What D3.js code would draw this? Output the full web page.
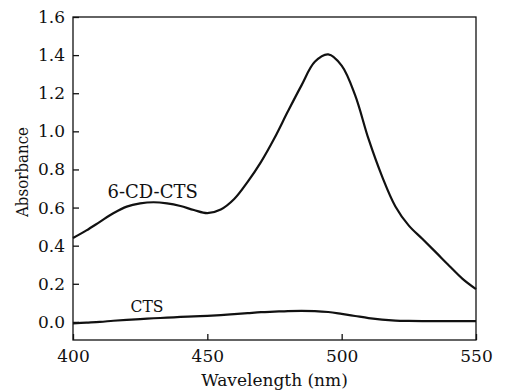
<!DOCTYPE html>
<html>
<head>
<meta charset="utf-8">
<script src="https://cdn.jsdelivr.net/npm/d3@7"></script>
<style>
html,body{margin:0;padding:0;background:#fff;}
svg{display:block;}
svg text{font-family:"DejaVu Serif","Liberation Serif",serif;fill:#111;}
</style>
</head>
<body>
<svg id="chart" width="506" height="392"></svg>
<script>
const wavelength = [400,405,410,415,420,425,430,435,440,445,450,455,460,465,470,475,480,485,490,495,500,505,510,515,520,525,530,535,540,545,550];
const cdcts = [0.44,0.48,0.525,0.57,0.605,0.622,0.628,0.622,0.608,0.587,0.571,0.59,0.645,0.735,0.84,0.965,1.105,1.24,1.365,1.404,1.345,1.19,0.96,0.765,0.606,0.505,0.436,0.366,0.295,0.226,0.172];
const cts = [-0.008,-0.004,0.0,0.006,0.011,0.015,0.019,0.022,0.026,0.029,0.032,0.036,0.041,0.046,0.051,0.054,0.057,0.058,0.057,0.052,0.042,0.031,0.02,0.012,0.007,0.005,0.004,0.004,0.004,0.004,0.004];
const xTicks = [400,450,500,550];
const yTicks = [0.0,0.2,0.4,0.6,0.8,1.0,1.2,1.4,1.6];
const seriesNames = ["6-CD-CTS","CTS"];

const svg = d3.select("#chart");
const L = 73, R = 476, T = 17, B = 340;
const x = d3.scaleLinear().domain([400,550]).range([L,R]);
const y = d3.scaleLinear().domain([-0.095,1.6]).range([B,T]);

const fs = 17;
const serif = "DejaVu Serif";

svg.append("rect").attr("x",L).attr("y",T).attr("width",R-L).attr("height",B-T)
  .attr("fill","none").attr("stroke","#111").attr("stroke-width",1.3);

const xAxis = svg.append("g").attr("transform",`translate(0,${B})`)
  .call(d3.axisBottom(x).tickValues(xTicks).tickSize(-6).tickPadding(10).tickFormat(d3.format("d")));
const yAxis = svg.append("g").attr("transform",`translate(${L},0)`)
  .call(d3.axisLeft(y).tickValues(yTicks).tickSize(-6).tickPadding(8).tickFormat(d3.format(".1f")));
[xAxis,yAxis].forEach(g=>{
  g.attr("font-family",serif).attr("font-size",fs);
  g.select(".domain").remove();
  g.selectAll(".tick line").attr("stroke","#111").attr("stroke-width",1.3);
  g.selectAll(".tick text").attr("fill","#111");
});

const line = d3.line().x((d,i)=>x(wavelength[i])).y(d=>y(d)).curve(d3.curveCatmullRom.alpha(0.5));
svg.append("path").datum(cdcts).attr("d",line).attr("fill","none").attr("stroke","#111").attr("stroke-width",2.2);
svg.append("path").datum(cts).attr("d",line).attr("fill","none").attr("stroke","#111").attr("stroke-width",2.2);

svg.append("text").attr("x",107.5).attr("y",197.5).attr("font-family",serif).attr("font-size",18).text(seriesNames[0]);
svg.append("text").attr("x",130.5).attr("y",311.5).attr("font-family",serif).attr("font-size",17)
  .attr("textLength",33).attr("lengthAdjust","spacingAndGlyphs").text(seriesNames[1]);

svg.append("text").attr("x",(L+R)/2).attr("y",385.5).attr("text-anchor","middle").attr("font-family",serif).attr("font-size",17)
  .text("Wavelength (nm)");
svg.append("text").attr("transform",`translate(28,172) rotate(-90)`).attr("text-anchor","middle").attr("font-family",serif).attr("font-size",17)
  .attr("textLength",90).attr("lengthAdjust","spacingAndGlyphs").text("Absorbance");
</script>
</body>
</html>
